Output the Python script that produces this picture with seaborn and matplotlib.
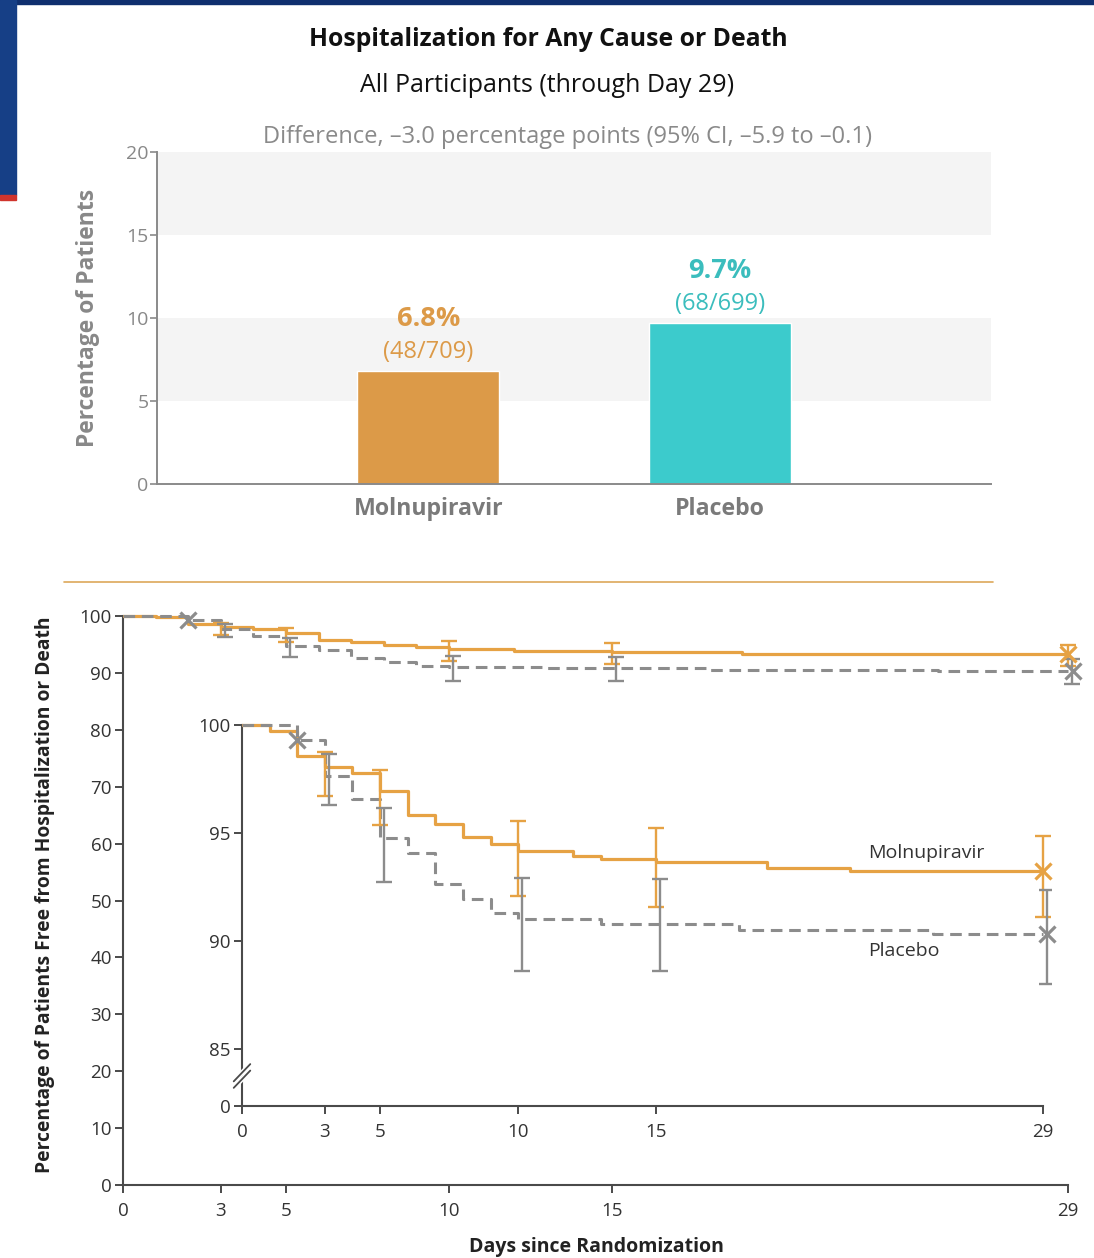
import matplotlib.pyplot as plt
import seaborn as sns
import pandas as pd
import numpy as np
from matplotlib.patches import Rectangle
from matplotlib.lines import Line2D

sns.set_style("white")
plt.rcParams['font.family'] = ['Open Sans', 'DejaVu Sans']

# ---- data ----
arms = ["Molnupiravir", "Placebo"]
pct = [6.8, 9.7]
counts = ["(48/709)", "(68/699)"]

# Kaplan-Meier steps (day, % free of event)
days_mol = [0, 1, 2, 3, 4, 5, 6, 7, 8, 9, 10, 12, 13, 15, 19, 22, 29]
surv_mol = [100, 99.74, 98.56, 98.07, 97.76, 96.96, 95.83, 95.40, 94.83,
            94.49, 94.18, 93.92, 93.80, 93.67, 93.39, 93.25, 93.25]
days_pbo = [0, 2, 3, 4, 5, 6, 7, 8, 9, 10, 13, 18, 25, 29]
surv_pbo = [100, 99.31, 97.64, 96.57, 94.78, 94.06, 92.62, 91.93, 91.28,
            91.02, 90.79, 90.51, 90.32, 90.32]

# 95% CI bars
ci_days = [3, 5, 10, 15, 29]
mol_lo = [96.73, 95.37, 92.08, 91.59, 91.13]
mol_hi = [98.76, 97.93, 95.57, 95.22, 94.86]
pbo_lo = [96.30, 92.75, 88.63, 88.63, 88.00]
pbo_hi = [98.64, 96.14, 92.90, 92.87, 92.36]

# X marks
mark_mol = ([29], [93.25])
mark_pbo = ([2, 29.15], [99.31, 90.32])

day_ticks = [0, 3, 5, 10, 15, 29]

ORANGE_BAR = '#DC9A48'
TEAL = '#3CCBCC'
TEAL_TXT = '#3BBDBD'
ORANGE = '#E6A244'
GRAY = '#8C8C8C'
AXC = '#4A4A4A'

W, H = 1094, 1258
fig = plt.figure(figsize=(W / 100, H / 100), dpi=100)


def fx(px):
    return px / W


def fy(py):
    return 1 - py / H


# slide decoration
fig.patches.append(Rectangle((0, fy(4)), 1, 4 / H, transform=fig.transFigure,
                             color='#0F2F6E', zorder=0))
fig.patches.append(Rectangle((0, fy(195)), 16 / W, 195 / H, transform=fig.transFigure,
                             color='#163F86', zorder=0))
fig.patches.append(Rectangle((0, fy(200)), 16 / W, 5 / H, transform=fig.transFigure,
                             color='#D0342C', zorder=0))

# titles
fig.text(fx(548), fy(39), "Hospitalization for Any Cause or Death", ha='center', va='center',
         fontsize=17.8, fontweight='bold', color='#111111')
fig.text(fx(547), fy(85), "All Participants (through Day 29)", ha='center', va='center',
         fontsize=18, color='#111111')
fig.text(fx(568), fy(137), "Difference, \u20133.0 percentage points (95% CI, \u20135.9 to \u20130.1)",
         ha='center', va='center', fontsize=17, color='#8A8A8A')

# ---- top bar chart ----
ax1 = fig.add_axes([fx(157), fy(484), fx(991) - fx(157), (484 - 152) / H])
ax1.axhspan(5, 10, color='#F4F4F4', zorder=0, lw=0)
ax1.axhspan(15, 20, color='#F4F4F4', zorder=0, lw=0)
bar_df = pd.DataFrame({"arm": arms, "pct": pct})
sns.barplot(data=bar_df, x="arm", y="pct", hue="arm", palette=[ORANGE_BAR, TEAL],
            width=0.485, legend=False, ax=ax1, zorder=2, saturation=1)
ax1.set_xlim(-0.93, 1.93)
ax1.set_ylim(0, 20)
ax1.set_yticks([0, 5, 10, 15, 20])
ax1.set_xlabel("")
ax1.set_ylabel("")
for s in ['top', 'right']:
    ax1.spines[s].set_visible(False)
for s in ['left', 'bottom']:
    ax1.spines[s].set_color('#8A8A8A')
    ax1.spines[s].set_linewidth(1.4)
ax1.tick_params(axis='y', length=5, width=1.2, color='#8A8A8A', labelcolor='#888888',
                labelsize=14, pad=1, left=True)
ax1.tick_params(axis='x', length=0, labelcolor='#7A7A7A', labelsize=16.7, pad=9.5)
for lab in ax1.get_xticklabels():
    lab.set_fontweight('bold')
txt_cols = [ORANGE_BAR, TEAL_TXT]
for i, (p, c) in enumerate(zip(pct, counts)):
    ax1.annotate(f"{p}%", (i, p), xytext=(0, 37.5), textcoords='offset points', ha='center',
                 va='center', fontsize=19.5, fontweight='bold', color=txt_cols[i])
    ax1.annotate(c, (i, p), xytext=(0, 13.5), textcoords='offset points', ha='center',
                 va='center', fontsize=17, color=txt_cols[i])
fig.text(fx(88), fy(318), "Percentage of Patients", rotation=90, ha='center', va='center',
         fontsize=16.5, fontweight='bold', color='#888888')

# divider
fig.add_artist(Line2D([fx(64), fx(993)], [fy(582), fy(582)], color='#DDA85A', lw=1.2))


# ---- Kaplan-Meier panels ----
def draw_km(ax, off):
    sns.lineplot(x=days_mol, y=surv_mol, ax=ax, drawstyle='steps-post', color=ORANGE,
                 lw=2.3, errorbar=None, zorder=3)
    sns.lineplot(x=days_pbo, y=surv_pbo, ax=ax, drawstyle='steps-post', color=GRAY,
                 lw=2.2, linestyle=(0, (3.8, 2.2)), errorbar=None, zorder=3)
    lo, hi = np.array(mol_lo), np.array(mol_hi)
    ax.errorbar(ci_days, (lo + hi) / 2, yerr=(hi - lo) / 2, fmt='none', ecolor=ORANGE,
                elinewidth=1.7, capsize=6, capthick=1.7, zorder=4)
    lo, hi = np.array(pbo_lo), np.array(pbo_hi)
    ax.errorbar(np.array(ci_days) + off, (lo + hi) / 2, yerr=(hi - lo) / 2, fmt='none',
                ecolor=GRAY, elinewidth=1.7, capsize=6, capthick=1.7, zorder=4)
    ax.plot(*mark_mol, ls='none', marker='x', ms=11, mew=2.3, color=ORANGE, zorder=5,
            clip_on=False)
    ax.plot(*mark_pbo, ls='none', marker='x', ms=11, mew=2.3, color=GRAY, zorder=5,
            clip_on=False)


def style_km(ax, ymin, ytop):
    for s in ['top', 'right']:
        ax.spines[s].set_visible(False)
    for s in ['left', 'bottom']:
        ax.spines[s].set_color(AXC)
        ax.spines[s].set_linewidth(1.5)
    ax.spines['bottom'].set_bounds(0, 29)
    ax.spines['left'].set_bounds(ymin, ytop)
    ax.set_xticks(day_ticks)
    ax.tick_params(length=6, width=1.4, color=AXC, labelcolor='#333333', labelsize=13.5,
                   pad=2, left=True, bottom=True)
    ax.tick_params(axis='x', pad=6)
    ax.set_xlabel("")
    ax.set_ylabel("")


px_day = (1068 - 123) / 29
ax2 = fig.add_axes([fx(123), fy(1185), 29.4 * px_day / W, (1185 - 612.6) / H])
ax2.set_facecolor('none')
draw_km(ax2, 0.12)
ax2.set_xlim(0, 29.4)
ax2.set_ylim(0, 100.6)
ax2.set_yticks(range(0, 101, 10))
style_km(ax2, 0, 100)

# inset with broken axis (0 sits just below 85)
floor = 82.36
px_in = (1043 - 242) / 29
ax3 = fig.add_axes([fx(242), fy(1106), 29.3 * px_in / W, (1106 - 718.5) / H])
ax3.set_facecolor('none')
draw_km(ax3, 0.15)
ax3.set_xlim(0, 29.3)
ax3.set_ylim(floor, 100.3)
ax3.set_yticks([floor, 85, 90, 95, 100])
ax3.set_yticklabels(["0", "85", "90", "95", "100"])
style_km(ax3, floor, 100)
for dy in (0, 0.3):
    ax3.plot([-0.3, 0.3], [83.2 + dy, 84.0 + dy], color='white', lw=3.5, clip_on=False, zorder=6)
for dy in (0, 0.3):
    ax3.plot([-0.3, 0.3], [83.2 + dy, 84.0 + dy], color=AXC, lw=1.3, clip_on=False, zorder=7)
ax3.text(22.66, 94.07, "Molnupiravir", ha='left', va='center', fontsize=14,
         color='#333333')
ax3.text(22.66, 89.54, "Placebo", ha='left', va='center', fontsize=14,
         color='#333333')

fig.text(fx(45), fy(895), "Percentage of Patients Free from Hospitalization or Death",
         rotation=90, ha='center', va='center', fontsize=13.9, fontweight='bold',
         color='#222222')
fig.text(fx(596), fy(1247), "Days since Randomization", ha='center', va='center',
         fontsize=14, fontweight='bold', color='#222222')

fig.savefig("out.png", dpi=100)
